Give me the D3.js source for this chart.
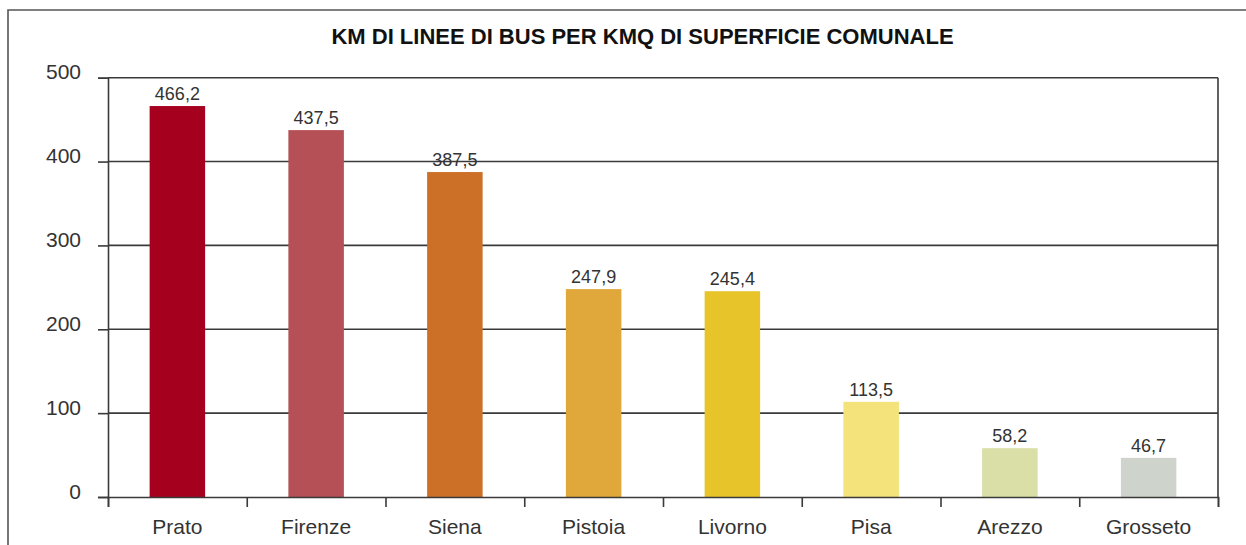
<!DOCTYPE html>
<html>
<head>
<meta charset="utf-8">
<script src="https://cdn.jsdelivr.net/npm/d3@7"></script>
<style>
  html, body { margin: 0; padding: 0; background: #fff; }
  svg { display: block; font-family: "Liberation Sans", Arial, Helvetica, sans-serif; }
</style>
</head>
<body>
<svg id="chart" width="1246" height="545"></svg>
<script>
// Km of bus lines per km² of municipal area, Tuscan provincial capitals
const cities = ["Prato", "Firenze", "Siena", "Pistoia", "Livorno", "Pisa", "Arezzo", "Grosseto"];
const kmPerKmq = [466.2, 437.5, 387.5, 247.9, 245.4, 113.5, 58.2, 46.7];
const barColors = ["#A6001F", "#B55056", "#CD7027", "#E0A83A", "#E7C52A", "#F4E27A", "#D9DFA6", "#CED4CB"];
const yTicks = [0, 100, 200, 300, 400, 500];
const title = "KM DI LINEE DI BUS PER KMQ DI SUPERFICIE COMUNALE";

const svg = d3.select("#chart");
const ink = "#333";
const lineInk = "#3a3a3a";

const plot = { left: 108, right: 1218, top: 77.7, bottom: 497 };

// outer frame: left and top edges
svg.append("path")
  .attr("d", "M8,545 L8,10 L1246,10")
  .attr("fill", "none")
  .attr("stroke", "#555")
  .attr("stroke-width", 1.6);

svg.append("text")
  .attr("x", 642.5)
  .attr("y", 44)
  .attr("text-anchor", "middle")
  .attr("font-size", 22)
  .attr("font-weight", "bold")
  .attr("fill", "#111")
  .text(title);

const x = d3.scaleBand()
  .domain(cities)
  .range([plot.left, plot.right])
  .paddingInner(0.6)
  .paddingOuter(0.3);

const y = d3.scaleLinear()
  .domain([0, 500])
  .range([plot.bottom, plot.top]);

// horizontal gridlines
svg.append("g")
  .selectAll("line")
  .data(yTicks.filter(d => d > 0))
  .join("line")
  .attr("x1", plot.left)
  .attr("x2", plot.right)
  .attr("y1", d => y(d))
  .attr("y2", d => y(d))
  .attr("stroke", lineInk)
  .attr("stroke-width", 1.6);

// right edge of plot
svg.append("line")
  .attr("x1", plot.right).attr("x2", plot.right)
  .attr("y1", plot.top).attr("y2", plot.bottom)
  .attr("stroke", lineInk)
  .attr("stroke-width", 1.6);

// bars
svg.append("g")
  .selectAll("rect")
  .data(cities)
  .join("rect")
  .attr("x", d => x(d))
  .attr("width", x.bandwidth())
  .attr("y", (d, i) => y(kmPerKmq[i]))
  .attr("height", (d, i) => y(0) - y(kmPerKmq[i]))
  .attr("fill", (d, i) => barColors[i]);

// value labels
const fmt = v => d3.format(".1f")(v).replace(".", ",");
svg.append("g")
  .selectAll("text")
  .data(cities)
  .join("text")
  .attr("x", d => x(d) + x.bandwidth() / 2)
  .attr("y", (d, i) => y(kmPerKmq[i]) - 6)
  .attr("text-anchor", "middle")
  .attr("font-size", 18)
  .attr("fill", ink)
  .text((d, i) => fmt(kmPerKmq[i]));

// y axis
const yAxis = svg.append("g")
  .attr("transform", `translate(${plot.left},0)`)
  .call(d3.axisLeft(y).tickValues(yTicks).tickSize(10).tickPadding(17).tickFormat(d3.format("d")));
yAxis.select(".domain").attr("stroke", lineInk).attr("stroke-width", 1.6);
yAxis.selectAll(".tick line").attr("stroke", lineInk).attr("stroke-width", 1.6);
yAxis.selectAll(".tick text")
  .attr("font-size", 21)
  .attr("fill", ink)
  .attr("dy", "0.05em")
  .attr("font-family", "Liberation Sans, Arial, sans-serif");

// x axis: boundary ticks between categories
const edges = d3.scaleLinear().domain([0, cities.length]).range([plot.left, plot.right]);
const xEdge = svg.append("g")
  .attr("transform", `translate(0,${plot.bottom})`)
  .call(d3.axisBottom(edges).tickValues(d3.range(0, cities.length + 1)).tickSize(10).tickFormat(""));
xEdge.select(".domain").attr("stroke", lineInk).attr("stroke-width", 1.6);
xEdge.selectAll(".tick line").attr("stroke", lineInk).attr("stroke-width", 1.6);

// x axis: category names
const xCat = svg.append("g")
  .attr("transform", `translate(0,${plot.bottom})`)
  .call(d3.axisBottom(x).tickSize(0).tickPadding(22));
xCat.select(".domain").remove();
xCat.selectAll(".tick text")
  .attr("font-size", 21)
  .attr("fill", ink)
  .attr("font-family", "Liberation Sans, Arial, sans-serif");
</script>
</body>
</html>
